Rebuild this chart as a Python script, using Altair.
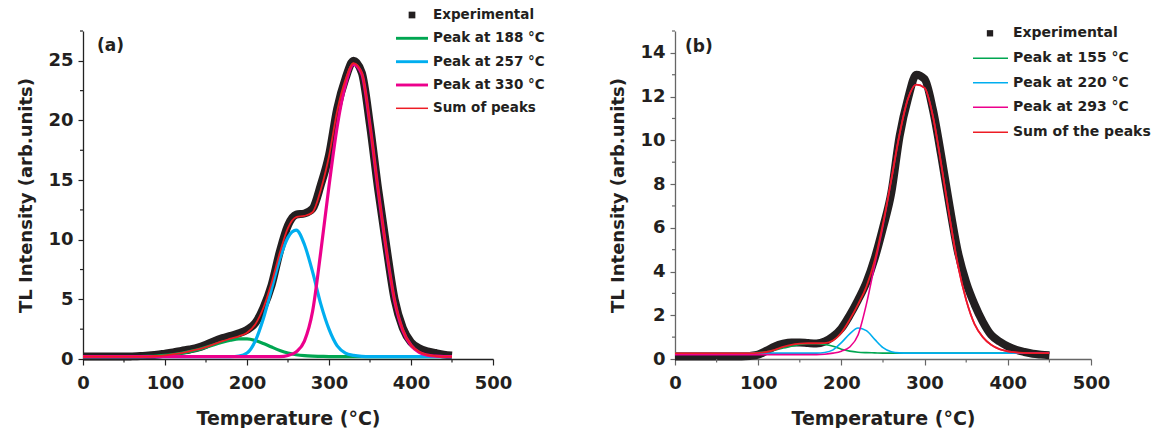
import altair as alt
import pandas as pd

# ---------------- data ----------------
TEMP = [0, 10, 20, 30, 40, 50, 60, 70, 80, 90,
        100, 110, 120, 130, 140, 150, 160, 170, 180, 190,
        200, 210, 220, 230, 240, 250, 260, 270, 280, 290,
        300, 310, 320, 330, 340, 350, 360, 370, 380, 390,
        400, 410, 420, 430, 440, 450]

# panel (a)
EXP_A = [0.2, 0.2, 0.2, 0.2, 0.2, 0.2, 0.22, 0.25, 0.3, 0.35,
         0.45, 0.55, 0.68, 0.8, 0.95, 1.2, 1.5, 1.75, 1.95, 2.15,
         2.45, 3.0, 4.3, 6.2, 9.0, 11.2, 12.1, 12.2, 12.6, 14.6,
         17.1, 21.0, 23.5, 25.0, 24.0, 19.6, 14.2, 9.4, 5.0, 2.6,
         1.4, 0.9, 0.65, 0.5, 0.37, 0.3]
PEAK1_A = [0.2, 0.2, 0.2, 0.2, 0.2, 0.2, 0.2, 0.2, 0.22, 0.25,
           0.3, 0.38, 0.48, 0.62, 0.78, 0.98, 1.2, 1.4, 1.57, 1.68,
           1.68, 1.55, 1.3, 1.0, 0.72, 0.5, 0.36, 0.28, 0.24, 0.22,
           0.2, 0.2, 0.2, 0.2, 0.2, 0.2, 0.2, 0.2, 0.2, 0.2,
           0.2, 0.2, 0.2, 0.2, 0.2, 0.2]
PEAK2_A = [0.2, 0.2, 0.2, 0.2, 0.2, 0.2, 0.2, 0.2, 0.2, 0.2,
           0.2, 0.2, 0.2, 0.2, 0.2, 0.2, 0.2, 0.2, 0.2, 0.25,
           0.5, 1.5, 3.4, 5.9, 8.4, 10.2, 10.8, 9.6, 7.3, 4.6,
           2.5, 1.1, 0.5, 0.3, 0.22, 0.2, 0.2, 0.2, 0.2, 0.2,
           0.2, 0.2, 0.2, 0.2, 0.2, 0.2]
PEAK3_A = [0.2, 0.2, 0.2, 0.2, 0.2, 0.2, 0.2, 0.2, 0.2, 0.2,
           0.2, 0.2, 0.2, 0.2, 0.2, 0.2, 0.2, 0.2, 0.2, 0.2,
           0.2, 0.2, 0.2, 0.2, 0.2, 0.3, 0.6, 1.5, 4.0, 9.0,
           14.5, 19.5, 23.0, 24.7, 23.9, 19.6, 14.1, 9.1, 4.9, 2.4,
           1.15, 0.55, 0.32, 0.24, 0.2, 0.2]
SUM_A = [0.2, 0.2, 0.2, 0.2, 0.2, 0.2, 0.2, 0.2, 0.2, 0.25,
         0.3, 0.4, 0.5, 0.65, 0.8, 1.0, 1.25, 1.5, 1.7, 1.9,
         2.2, 2.9, 4.3, 6.4, 8.9, 11.0, 11.9, 12.0, 12.3, 14.2,
         17.0, 20.8, 23.4, 24.8, 24.0, 19.7, 14.2, 9.2, 5.0, 2.5,
         1.2, 0.6, 0.35, 0.25, 0.2, 0.2]

# panel (b)
EXP_B = [0.12, 0.12, 0.12, 0.12, 0.12, 0.12, 0.12, 0.12, 0.12, 0.14,
         0.2, 0.38, 0.58, 0.7, 0.76, 0.76, 0.73, 0.71, 0.8, 1.03,
         1.4, 2.0, 2.7, 3.5, 4.6, 6.0, 7.6, 10.2, 11.9, 13.0,
         12.8, 11.4, 9.3, 7.0, 4.9, 3.5, 2.5, 1.7, 1.1, 0.8,
         0.58, 0.42, 0.32, 0.24, 0.2, 0.17]
PEAK1_B = [0.27, 0.27, 0.27, 0.27, 0.27, 0.27, 0.27, 0.27, 0.27, 0.27,
           0.29, 0.33, 0.4, 0.5, 0.58, 0.66, 0.7, 0.7, 0.66, 0.58,
           0.45, 0.36, 0.31, 0.29, 0.28, 0.27, 0.27, 0.27, 0.27, 0.27,
           0.27, 0.27, 0.27, 0.27, 0.27, 0.27, 0.27, 0.27, 0.27, 0.27,
           0.27, 0.27, 0.27, 0.27, 0.27, 0.27]
PEAK2_B = [0.27, 0.27, 0.27, 0.27, 0.27, 0.27, 0.27, 0.27, 0.27, 0.27,
           0.27, 0.27, 0.27, 0.27, 0.27, 0.27, 0.27, 0.27, 0.3, 0.42,
           0.75, 1.15, 1.42, 1.3, 0.9, 0.52, 0.33, 0.28, 0.27, 0.27,
           0.27, 0.27, 0.27, 0.27, 0.27, 0.27, 0.27, 0.27, 0.27, 0.27,
           0.27, 0.27, 0.27, 0.27, 0.27, 0.27]
PEAK3_B = [0.2, 0.2, 0.2, 0.2, 0.2, 0.2, 0.2, 0.2, 0.2, 0.2,
           0.2, 0.2, 0.2, 0.2, 0.2, 0.2, 0.2, 0.2, 0.22, 0.27,
           0.36, 0.55, 1.1, 2.5, 4.3, 6.1, 8.2, 10.3, 11.9, 12.55,
           12.4, 11.1, 8.9, 6.5, 4.3, 2.7, 1.6, 1.0, 0.65, 0.45,
           0.35, 0.3, 0.28, 0.27, 0.27, 0.27]
SUM_B = [0.27, 0.27, 0.27, 0.27, 0.27, 0.27, 0.27, 0.27, 0.27, 0.27,
         0.28, 0.32, 0.42, 0.55, 0.65, 0.7, 0.72, 0.72, 0.73, 0.85,
         1.2, 1.8, 2.5, 3.3, 4.5, 6.2, 8.2, 10.3, 11.9, 12.55,
         12.4, 11.1, 8.9, 6.5, 4.3, 2.7, 1.6, 1.0, 0.65, 0.45,
         0.35, 0.3, 0.28, 0.27, 0.27, 0.27]

LABELS_A = ["Experimental", "Peak at 188 °C", "Peak at 257 °C", "Peak at 330 °C", "Sum of peaks"]
LABELS_B = ["Experimental", "Peak at 155 °C", "Peak at 220 °C", "Peak at 293 °C", "Sum of the peaks"]

X_TICKS = [0, 100, 200, 300, 400, 500]
X_MINOR = [50, 150, 250, 350, 450]
Y_TICKS_A = [0, 5, 10, 15, 20, 25]
Y_MINOR_A = [2.5, 7.5, 12.5, 17.5, 22.5, 27.5]
Y_TICKS_B = [0, 2, 4, 6, 8, 10, 12, 14]
Y_MINOR_B = [1, 3, 5, 7, 9, 11, 13, 15]

# ---------------- styling ----------------
FONT = "DejaVu Sans"
TXT = "#231f20"
COLORS = ["#231f20", "#00a651", "#00aeef", "#ec008c", "#ed1c24"]


def panel(series, labels, ymax, yticks, yminor, width, height, axis_color,
          widths, tag, tag_pos, leg, leg_font):
    frames = []
    for lab, vals in zip(labels, series):
        frames.append(pd.DataFrame({"T": TEMP, "v": vals, "s": lab}))
    xs = alt.Scale(domain=[0, 500], nice=False, zero=False)
    ys = alt.Scale(domain=[0, ymax], nice=False, zero=True)
    xaxis = alt.Axis(values=X_TICKS, grid=False, tickSize=6, tickWidth=1.2,
                     tickColor=axis_color, domainColor=axis_color, domainWidth=1.3,
                     labelFont=FONT, labelFontWeight="bold", labelFontSize=18,
                     labelColor=TXT, labelPadding=9, labelFlush=False,
                     title="Temperature (°C)", titleFont=FONT, titleFontWeight="bold",
                     titleFontSize=19, titleColor=TXT, titlePadding=17)
    yaxis = alt.Axis(values=yticks, grid=False, tickSize=5, tickWidth=1.2,
                     tickColor=axis_color, domainColor=axis_color, domainWidth=1.3,
                     labelFont=FONT, labelFontWeight="bold", labelFontSize=18,
                     labelColor=TXT, labelPadding=5, labelFlush=False,
                     title="TL Intensity (arb.units)", titleFont=FONT, titleFontWeight="bold",
                     titleFontSize=18, titleColor=TXT, titlePadding=12)
    layers = []
    for i, df in enumerate(frames):
        layers.append(
            alt.Chart(df).mark_line(color=COLORS[i], strokeWidth=widths[i],
                                    interpolate="monotone")
            .encode(x=alt.X("T:Q", scale=xs, axis=xaxis),
                    y=alt.Y("v:Q", scale=ys, axis=yaxis))
        )
    # minor ticks
    layers.append(
        alt.Chart(pd.DataFrame({"T": X_MINOR})).mark_rule(color=axis_color, strokeWidth=1.2)
        .encode(x=alt.X("T:Q", scale=xs), y=alt.value(height), y2=alt.value(height + 3.5))
    )
    layers.append(
        alt.Chart(pd.DataFrame({"v": yminor})).mark_rule(color=axis_color, strokeWidth=1.2)
        .encode(y=alt.Y("v:Q", scale=ys), x=alt.value(0), x2=alt.value(-3))
    )
    # panel tag
    layers.append(
        alt.Chart(pd.DataFrame({"t": [tag]})).mark_text(
            font=FONT, fontWeight="bold", fontSize=17, color=TXT, align="left",
            baseline="middle")
        .encode(text="t:N", x=alt.value(tag_pos[0]), y=alt.value(tag_pos[1]))
    )
    # legend
    lx0, lx1, sqx, tx, rows, sqsize = leg
    for i, lab in enumerate(labels):
        if i == 0:
            layers.append(
                alt.Chart(pd.DataFrame({"t": [lab]})).mark_square(
                    size=sqsize, color=COLORS[0], opacity=1)
                .encode(x=alt.value(sqx), y=alt.value(rows[i]))
            )
        else:
            layers.append(
                alt.Chart(pd.DataFrame({"t": [lab]})).mark_rule(
                    color=COLORS[i], strokeWidth=max(widths[i] - 0.3, 1.5))
                .encode(x=alt.value(lx0), x2=alt.value(lx1), y=alt.value(rows[i]))
            )
        layers.append(
            alt.Chart(pd.DataFrame({"t": [lab]})).mark_text(
                font=FONT, fontWeight="bold", fontSize=leg_font, color=TXT,
                align="left", baseline="middle")
            .encode(text="t:N", x=alt.value(tx), y=alt.value(rows[i]))
        )
    return alt.layer(*layers).properties(width=width, height=height)


pa = panel([EXP_A, PEAK1_A, PEAK2_A, PEAK3_A, SUM_A], LABELS_A, 27.5,
           Y_TICKS_A, Y_MINOR_A, 410, 328, "#222222",
           [8, 3.2, 3.2, 3.2, 1.8], "(a)", (14, 15),
           (313, 345, 329, 350, [-16, 7.3, 30.7, 54, 77.3], 45), 13.5)
pb = panel([EXP_B, PEAK1_B, PEAK2_B, PEAK3_B, SUM_B], LABELS_B, 15,
           Y_TICKS_B, Y_MINOR_B, 416, 328, "#666666",
           [8, 1.6, 1.6, 1.6, 1.8], "(b)", (10, 16),
           (298, 333, 315, 338, [2.3, 27.3, 51.7, 76.3, 101.3], 40), 14)

chart = (
    alt.hconcat(pa, pb, spacing=182, bounds="flush")
    .properties(padding={"left": 17, "top": 8, "right": 0, "bottom": 0})
    .configure_view(stroke=None)
)

chart.save("out.html", embed_options={"renderer": "svg", "actions": False})
